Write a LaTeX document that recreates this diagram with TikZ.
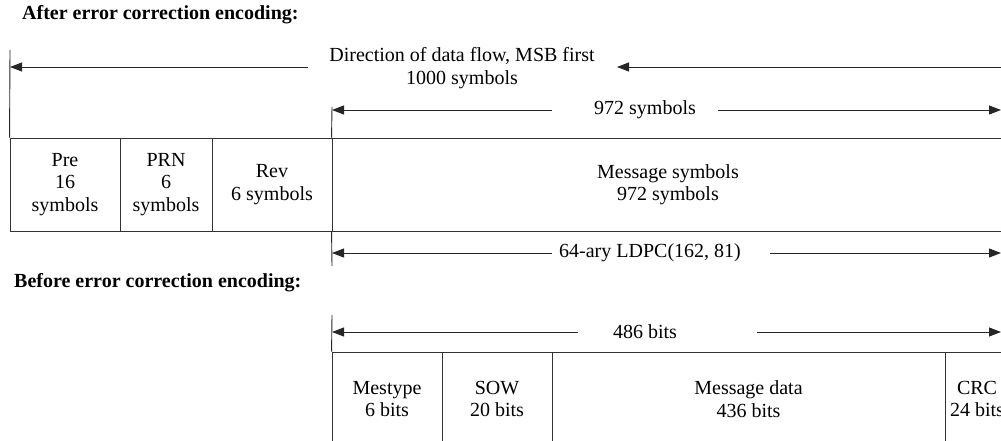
\documentclass[tikz,border=0pt]{standalone}
\usepackage{fontspec}
\setmainfont{Liberation Serif}
\usetikzlibrary{arrows.meta}
\begin{document}
\begin{tikzpicture}[x=1pt,y=-1pt,
  every node/.style={font=\fontsize{20}{22.5}\selectfont, inner sep=0pt, align=center},
  cell/.style={draw=black!80, line width=0.9pt, rectangle},
  dim/.style={line width=0.9pt, draw=black!85, -{Triangle[length=12pt,width=9pt]}},
  tick/.style={line width=0.9pt, draw=black!85},
  title/.style={font=\fontsize{20}{22.5}\selectfont\bfseries, anchor=west}]
\useasboundingbox (0,0) rectangle (1001,441);
\clip (0,0) rectangle (1001,441);
% titles
\node[title] (t1) at (22,15) {After error correction encoding:};
\node[title] (t2) at (14,283) {Before error correction encoding:};
% top cells
\node[cell, minimum width=110, minimum height=93] (pre) at (65,184.5) {Pre\\16\\symbols};
\node[cell, minimum width=92, minimum height=93] (prn) at (166,184.5) {PRN\\6\\symbols};
\node[cell, minimum width=120, minimum height=93] (rev) at (272,184.5) {Rev\\6 symbols};
\node[cell, minimum width=672, minimum height=93] (msg) at (668,184.5) {Message symbols\\972 symbols};
% bottom cells
\node[cell, minimum width=110, minimum height=94] (mt) at (387,399) {Mestype\\6 bits};
\node[cell, minimum width=110, minimum height=94] (sow) at (497,399) {SOW\\20 bits};
\node[cell, minimum width=393, minimum height=94] (md) at (748.5,399) {Message data\\436 bits};
\node[cell, minimum width=64, minimum height=94] (crc) at (977,399) {CRC\\24 bits};
% extension lines
\coordinate (a0) at (10,50);
\coordinate (b0) at (332,107);
\coordinate (b1) at (332,266);
\coordinate (c0) at (332,315);
\draw[tick] (a0) -- (pre.north west);
\draw[tick] (b0) -- (msg.north west);
\draw[tick] (msg.south west) -- (b1);
\draw[tick] (c0) -- (mt.north west);
% labels
\node (dir) at (462,68) {Direction of data flow, MSB first\\1000 symbols};
\node (l972) at (645,110) {972 symbols};
\node (ldpc) at (650,253) {64-ary LDPC(162, 81)};
\node (l486) at (645,332) {486 bits};
% dimension arrows
\coordinate (d1a) at (308,67); \coordinate (d1b) at (10,67);
\coordinate (d1c) at (1003,67); \coordinate (d1d) at (617,67);
\draw[dim] (d1a) -- (d1b);
\draw[dim] (d1c) -- (d1d);
\coordinate (d2a) at (552,110); \coordinate (d2b) at (332,110);
\coordinate (d2c) at (718,110); \coordinate (d2d) at (1001,110);
\draw[dim] (d2a) -- (d2b);
\draw[dim] (d2c) -- (d2d);
\coordinate (d3a) at (552,253); \coordinate (d3b) at (332,253);
\coordinate (d3c) at (770,253); \coordinate (d3d) at (1001,253);
\draw[dim] (d3a) -- (d3b);
\draw[dim] (d3c) -- (d3d);
\coordinate (d4a) at (578,332); \coordinate (d4b) at (332,332);
\coordinate (d4c) at (757,332); \coordinate (d4d) at (1001,332);
\draw[dim] (d4a) -- (d4b);
\draw[dim] (d4c) -- (d4d);
\end{tikzpicture}
\end{document}
